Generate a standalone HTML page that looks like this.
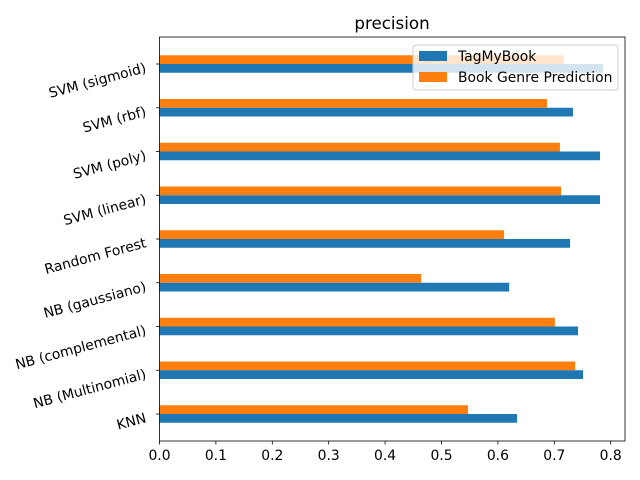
<!DOCTYPE html>
<html><head><meta charset="utf-8"><style>
body{margin:0;background:#fff}
svg{display:block;font-family:"DejaVu Sans","Liberation Sans",sans-serif}
</style></head><body>
<svg id="chart" width="640" height="480" viewBox="0 0 640 480">
<rect width="640" height="480" fill="#fff"/>
<text x="392" y="29" text-anchor="middle" font-size="16.7" fill="#000">precision</text>
<g id="bars"></g>
<g id="axes"></g>
<g id="legend">
<rect x="413" y="45" width="205" height="45" rx="3" fill="#fff" fill-opacity="0.8" stroke="#ccc"/>
<rect x="419" y="51" width="28" height="10" fill="#1f77b4"/>
<text x="458" y="61" font-size="13.9">TagMyBook</text>
<rect x="419" y="72" width="28" height="10" fill="#ff7f0e"/>
<text x="458" y="82" font-size="13.9">Book Genre Prediction</text>
</g>
</svg>
<script>
const categories = ["KNN","NB (Multinomial)","NB (complemental)","NB (gaussiano)","Random Forest","SVM (linear)","SVM (poly)","SVM (rbf)","SVM (sigmoid)"];
const tagMyBook = [0.634,0.751,0.742,0.620,0.728,0.781,0.781,0.733,0.786];
const bookGenre = [0.547,0.737,0.701,0.464,0.611,0.712,0.710,0.687,0.717];
const xTicks = [0.0,0.1,0.2,0.3,0.4,0.5,0.6,0.7,0.8];
const xTickLabels = ["0.0","0.1","0.2","0.3","0.4","0.5","0.6","0.7","0.8"];

const NS="http://www.w3.org/2000/svg";
const L=159.5,R=625,T=37,B=441;
const xs=v=>L+v*564;
const yTop=64,yBot=414;
const ys=i=>yBot-i*(yBot-yTop)/(categories.length-1);
const bh=8.75;
function mk(tag,attrs,parent){const e=document.createElementNS(NS,tag);for(const k in attrs)e.setAttribute(k,attrs[k]);parent.appendChild(e);return e;}
const bars=document.getElementById('bars'),axes=document.getElementById('axes');
categories.forEach((c,i)=>{
  const y=ys(i);
  const slug=c.toLowerCase().replace(/[^a-z0-9]+/g,'-').replace(/-$/,'');
  const o=mk('rect',{x:L,y:y-bh,width:xs(bookGenre[i])-L,height:bh,fill:'#ff7f0e'},bars);
  
  
  const b=mk('rect',{x:L,y:y,width:xs(tagMyBook[i])-L,height:bh,fill:'#1f77b4'},bars);
  
  
  const tk=mk('line',{x1:L-3.5,x2:L,y1:y,y2:y,stroke:'#000','stroke-width':0.8},axes);
  
  
  const t=mk('text',{x:147,y:y+8,'text-anchor':'end','font-size':13.9,transform:`rotate(-15 147 ${y+8})`},axes);
  t.textContent=c;
  
  
});
xTicks.forEach((v,i)=>{
  const x=xs(v);
  const tk=mk('line',{x1:x,x2:x,y1:B,y2:B+3.5,stroke:'#000','stroke-width':0.8},axes);
  
  
  const t=mk('text',{x:x,y:B+19,'text-anchor':'middle','font-size':13.9},axes);
  t.textContent=xTickLabels[i];
  
  
});
const frame=mk('rect',{x:L,y:T,width:R-L,height:B-T,fill:'none',stroke:'#000','stroke-width':0.8},axes);


</script>
</body></html>
